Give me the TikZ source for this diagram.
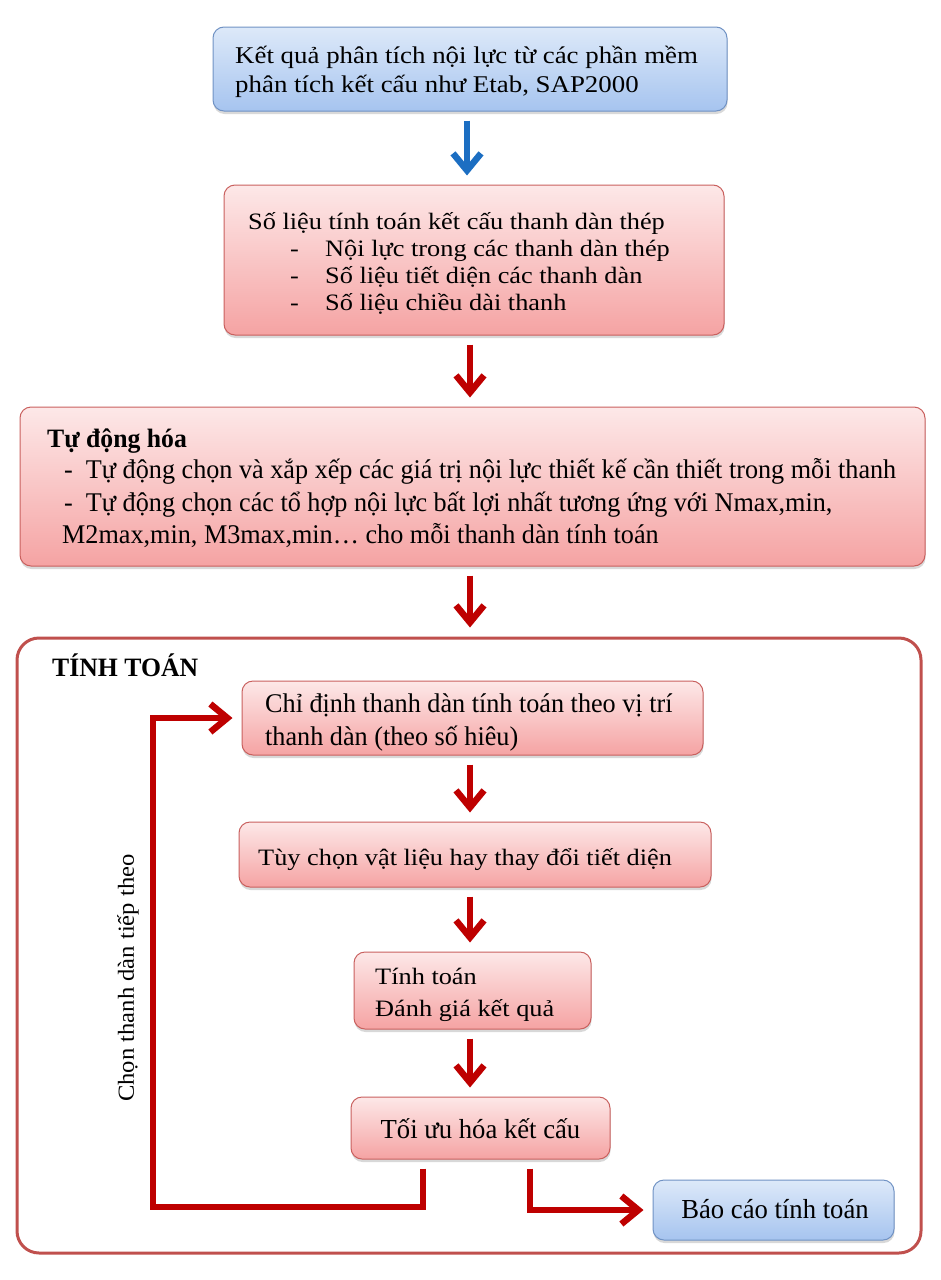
\documentclass[tikz,border=0pt]{standalone}
\usepackage{fontspec}
\setmainfont{Liberation Serif}
\newfontfamily\wide[FakeStretch=1.12]{Liberation Serif}
\newfontfamily\cond[FakeStretch=0.97]{Liberation Serif}
\newfontfamily\rot[FakeStretch=1.07]{Liberation Serif}
\usetikzlibrary{arrows.meta,shadows,calc}
\definecolor{bluetop}{HTML}{DDE9F9}
\definecolor{bluebot}{HTML}{A6C4EF}
\definecolor{blueedge}{HTML}{7092C4}
\definecolor{pinktop}{HTML}{FDE8E8}
\definecolor{pinkbot}{HTML}{F5A3A3}
\definecolor{pinkedge}{HTML}{C9605E}
\definecolor{arrowred}{HTML}{BE0000}
\definecolor{arrowblue}{HTML}{1C6EC2}
\definecolor{frameedge}{HTML}{C0504D}
\begin{document}
\begin{tikzpicture}[x=1pt,y=-1pt,
  box/.style={rounded corners=11pt, line width=1pt, inner sep=0pt,
    drop shadow={opacity=0.3, shadow xshift=0.5pt, shadow yshift=-3pt}},
  bluebox/.style={box, draw=blueedge, top color=bluetop, bottom color=bluebot},
  pinkbox/.style={box, draw=pinkedge, top color=pinktop, bottom color=pinkbot},
  frame/.style={draw=frameedge, line width=3pt, rounded corners=22pt, fill=white, inner sep=0pt},
  txt/.style={inner sep=0pt, anchor=base west, font=\wide\fontsize{24}{27}\selectfont},
  stxt/.style={inner sep=0pt, anchor=base west, font=\wide\fontsize{23.5}{27}\selectfont},
  ctxt/.style={inner sep=0pt, anchor=base west, font=\cond\fontsize{27}{27}\selectfont},
  btxt/.style={inner sep=0pt, anchor=base west, font=\cond\bfseries\fontsize{26.5}{27}\selectfont},
  tip/.style={-{Straight Barb[length=17pt,width=28pt]}},
  redarr/.style={draw=arrowred, line width=6.5pt, tip, shorten <=9pt, shorten >=9pt},
  bluearr/.style={draw=arrowblue, line width=6.5pt, tip, shorten <=9pt, shorten >=9pt},
  loopline/.style={draw=arrowred, line width=6.5pt, miter limit=10}
]
\useasboundingbox (0,0) rectangle (941,1280);

% frame
\node[frame, minimum width=904pt, minimum height=615pt] (frm) at (469,945.5) {};

% boxes
\node[bluebox, minimum width=514pt, minimum height=84pt] (b1) at (470,69) {};
\node[pinkbox, minimum width=500pt, minimum height=150pt] (b2) at (474,260) {};
\node[pinkbox, minimum width=905pt, minimum height=159pt] (b3) at (472.5,486.5) {};
\node[pinkbox, minimum width=461pt, minimum height=74pt] (chi) at (472.5,718) {};
\node[pinkbox, minimum width=472pt, minimum height=65pt] (tuy) at (475,854.5) {};
\node[pinkbox, minimum width=237pt, minimum height=77pt] (tinh) at (472.5,990.5) {};
\node[pinkbox, minimum width=259pt, minimum height=62pt] (opt) at (480.5,1128) {};
\node[bluebox, minimum width=241pt, minimum height=60pt] (bao) at (773.5,1210) {};

% texts
\node[txt] (t1a) at (235,63) {Kết quả phân tích nội lực từ các phần mềm};
\node[txt] (t1b) at (235,92) {phân tích kết cấu như Etab, SAP2000};

\node[stxt] (t2a) at (248,229) {Số liệu tính toán kết cấu thanh dàn thép};
\node[stxt] (t2b) at (290,256) {-};
\node[stxt] (t2c) at (325,256) {Nội lực trong các thanh dàn thép};
\node[stxt] (t2d) at (290,283) {-};
\node[stxt] (t2e) at (325,283) {Số liệu tiết diện các thanh dàn};
\node[stxt] (t2f) at (290,310) {-};
\node[stxt] (t2g) at (325,310) {Số liệu chiều dài thanh};

\node[btxt] (t3a) at (47,447) {Tự động hóa};
\node[ctxt] (t3b) at (64,478) {-\ \ Tự động chọn và xắp xếp các giá trị nội lực thiết kế cần thiết trong mỗi thanh};
\node[ctxt] (t3c) at (64,511) {-\ \ Tự động chọn các tổ hợp nội lực bất lợi nhất tương ứng với Nmax,min,};
\node[ctxt] (t3d) at (62,543) {M2max,min, M3max,min… cho mỗi thanh dàn tính toán};

\node[btxt] (tt) at (52,676) {TÍNH TOÁN};
\node[ctxt] (tc1) at (265,712) {Chỉ định thanh dàn tính toán theo vị trí};
\node[ctxt] (tc2) at (265,745) {thanh dàn (theo số hiêu)};
\node[stxt] (tu) at (258,865) {Tùy chọn vật liệu hay thay đổi tiết diện};
\node[stxt] (ti1) at (375,984) {Tính toán};
\node[stxt] (ti2) at (375,1016) {Đánh giá kết quả};
\node[ctxt, anchor=base, font=\cond\fontsize{27.5}{27}\selectfont] (to) at (480.5,1138) {Tối ưu hóa kết cấu};
\node[ctxt, anchor=base, font=\cond\fontsize{27.5}{27}\selectfont] (ba) at (775,1218) {Báo cáo tính toán};
\node[inner sep=0pt, rotate=90, font=\rot\fontsize{23}{27}\selectfont] (lbl) at (128,978) {Chọn thanh dàn tiếp theo};

% arrows
\draw[bluearr] ([xshift=-3pt]b1.south) -- ([xshift=-3pt]b1.south |- b2.north);
\draw[redarr] ([xshift=-4pt]b2.south) -- ([xshift=-4pt]b2.south |- b3.north);
\draw[redarr] ([xshift=-2.5pt]b3.south) -- ([xshift=-2.5pt]b3.south |- frm.north);
\draw[redarr] ([xshift=-2.5pt]chi.south) -- ([xshift=-2.5pt]chi.south |- tuy.north);
\draw[redarr] ([xshift=-5pt]tuy.south) -- ([xshift=-5pt]tuy.south |- tinh.north);
\draw[redarr] ([xshift=-2.5pt]tinh.south) -- ([xshift=-2.5pt]tinh.south |- opt.north);

% loop
\coordinate (lc) at (153,1207);
\draw[loopline, tip, shorten >=9pt]
  ([xshift=-57.5pt,yshift=-9pt]opt.south) |- (lc) |- (chi.west);
\draw[loopline, tip, shorten >=9pt]
  ([xshift=49.5pt,yshift=-9pt]opt.south) |- (bao.west);
\end{tikzpicture}
\end{document}
